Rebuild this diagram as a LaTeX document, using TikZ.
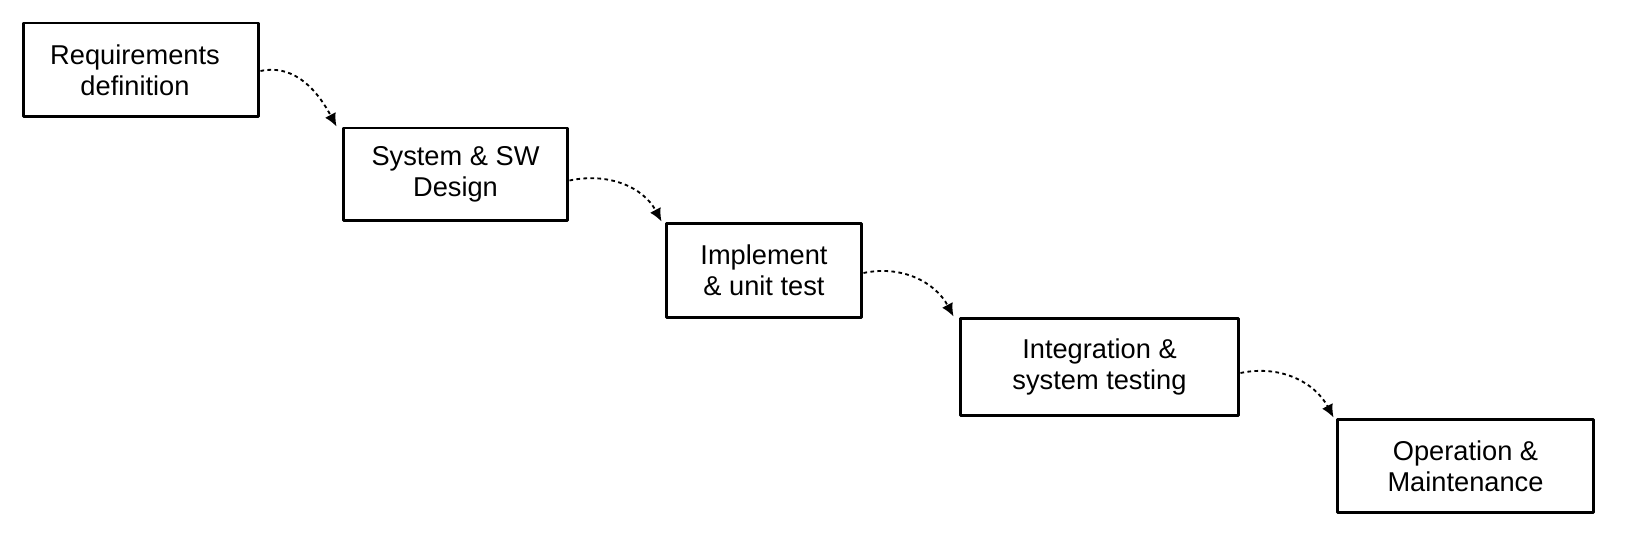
\documentclass[tikz,border=0pt]{standalone}
\usepackage{fontspec}
\setmainfont{Liberation Sans}
\usetikzlibrary{arrows.meta, positioning}
\tikzset{el/.style={line cap=round, line join=round}}

\begin{document}
\begin{tikzpicture}[el, x=0.02cm, y=-0.02cm,
     box/.style={draw=black, line width=1.7pt, align=center, fill=white,
        font=\fontsize{15.5}{17.6}\selectfont, inner sep=0pt},
     ar/.style={-{Latex[length=2.6mm, width=2.4mm]}, black, line width=1.05pt,
        line cap=butt, dash pattern=on 2.1pt off 1.9pt}]
     \useasboundingbox (0,0) rectangle (1640,540);
     \node[box, minimum width=4.72cm, minimum height=1.88cm] (req) at (141,70) {Requirements\hspace*{0.24cm}\\definition\hspace*{0.24cm}};
     \node[box, minimum width=4.5cm, minimum height=1.86cm] (sys) at (455.5,174.5) {System \& SW\\Design};
     \node[box, minimum width=3.92cm, minimum height=1.9cm] (impl) at (764,270.5) {Implement\\\& unit test};
     \node[box, minimum width=5.58cm, minimum height=1.96cm] (integ) at (1099.5,367) {Integration \&\\system testing};
     \node[box, minimum width=5.14cm, minimum height=1.88cm] (oper) at (1465.5,466) {Operation \&\\Maintenance};
     \draw[ar] ([yshift=-0.02cm]req.east) to[out=12, in=118] ([xshift=-0.1cm]sys.north west);
     \draw[ar] ([yshift=-0.12cm]sys.east) to[out=12, in=118] ([xshift=-0.06cm]impl.north west);
     \draw[ar] ([yshift=-0.05cm]impl.east) to[out=12, in=118] ([xshift=-0.1cm]integ.north west);
     \draw[ar] ([yshift=-0.12cm]integ.east) to[out=12, in=118] ([xshift=-0.04cm]oper.north west);
\end{tikzpicture}
\end{document}
